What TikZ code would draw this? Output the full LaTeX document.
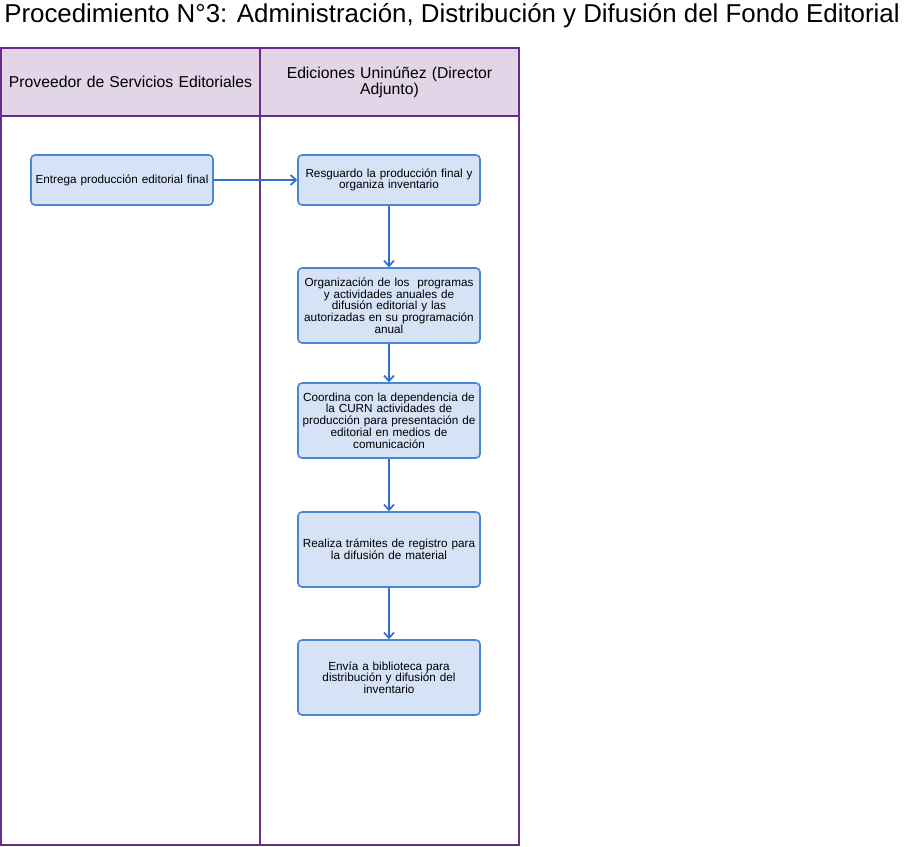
\documentclass[tikz,border=0pt]{standalone}
\usepackage{fontspec}
\setmainfont{Liberation Sans}
\usetikzlibrary{arrows.meta}
\definecolor{lanecol}{HTML}{6A2D8C}
\definecolor{headfill}{HTML}{E1D5E7}
\definecolor{boxfill}{HTML}{D6E2F5}
\definecolor{boxdraw}{HTML}{4A86D8}
\definecolor{arrcol}{HTML}{2F6FD0}
\tikzset{
  lane/.style={draw=lanecol, line width=1.5pt},
  head/.style={draw=lanecol, fill=headfill, line width=1.5pt},
  proc/.style={draw=boxdraw, fill=boxfill, line width=1.2pt, rounded corners=3pt,
    minimum width=182*0.75pt, align=center, text width=132pt, inner sep=1pt,
    font=\fontsize{8.8pt}{8.8pt}\selectfont},
  flow/.style={draw=arrcol, line width=1.3pt, -{Straight Barb[length=4pt,width=7.5pt,line width=1.3pt]}},
  headtxt/.style={align=center, font=\fontsize{11.8pt}{12pt}\selectfont, text width=190pt}
}
\begin{document}
\begin{tikzpicture}[x=0.75pt,y=-0.75pt]
\useasboundingbox (0,0) rectangle (923,846);
\node[font=\fontsize{19.4pt}{22pt}\selectfont] (title) at (452,16) {Procedimiento N°3: Administración, Distribución y Difusión del Fondo Editorial};
% lanes
\draw[lane] (1,48) rectangle (260,845);
\draw[lane] (260,48) rectangle (519,845);
\draw[head] (1,48) rectangle (260,116);
\draw[head] (260,48) rectangle (519,116);
\node[headtxt] (h1) at (130.5,82) {Proveedor de Servicios Editoriales};
\node[headtxt] (h2) at (389.5,82) {Ediciones Uninúñez (Director\\Adjunto)};
% boxes
\node[proc, minimum height=50*0.75pt] (b1) at (122,180) {Entrega producción editorial final};
\node[proc, minimum height=50*0.75pt] (b2) at (389,180) {Resguardo la producción final y\\organiza inventario};
\node[proc, minimum height=75*0.75pt] (b3) at (389,305.5) {Organización de los \ programas\\y actividades anuales de\\difusión editorial y las\\autorizadas en su programación\\anual};
\node[proc, minimum height=75*0.75pt] (b4) at (389,420.5) {Coordina con la dependencia de\\la CURN actividades de\\producción para presentación de\\editorial en medios de\\comunicación};
\node[proc, minimum height=75*0.75pt] (b5) at (389,549.5) {Realiza trámites de registro para\\la difusión de material};
\node[proc, minimum height=75*0.75pt] (b6) at (389,677.5) {Envía a biblioteca para\\distribución y difusión del\\inventario};
% arrows
\draw[flow] (b1) -- (b2);
\draw[flow] (b2) -- (b3);
\draw[flow] (b3) -- (b4);
\draw[flow] (b4) -- (b5);
\draw[flow] (b5) -- (b6);
\end{tikzpicture}
\end{document}
